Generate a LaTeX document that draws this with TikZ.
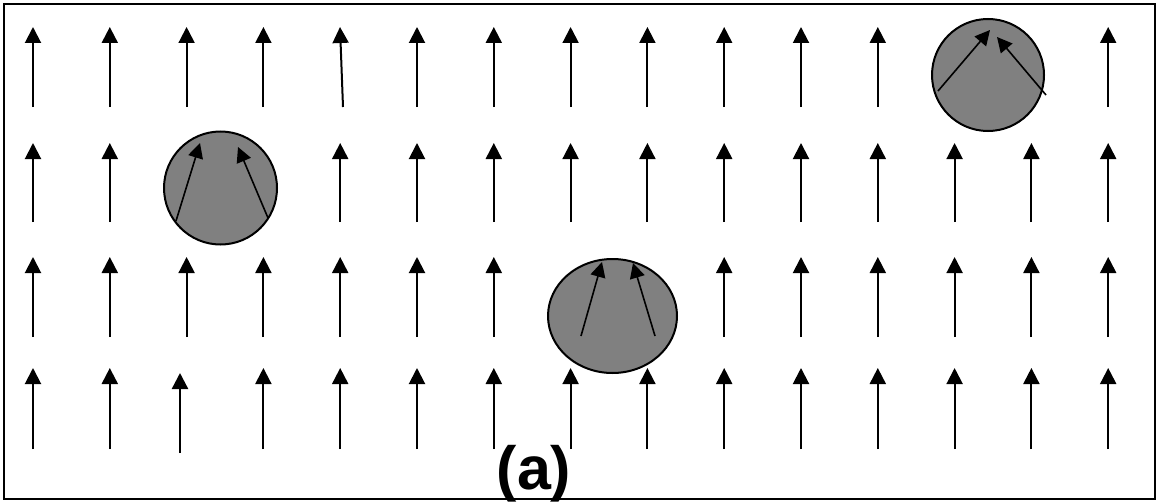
\documentclass[tikz,border=0pt]{standalone}
\usepackage{fontspec}
\setmainfont{Liberation Sans}
\usetikzlibrary{arrows.meta}
\tikzset{
  spin/.style={line width=2pt,-{Triangle[width=16pt,length=16pt]}},
  tilt/.style={line width=1.6pt,-{Triangle[width=15pt,length=15pt]}},
  grain/.style={draw=black,line width=2pt,fill=black!50}
}

\begin{document}
\begin{tikzpicture}[x=1pt,y=-1pt]
    \useasboundingbox (0,0) rectangle (1158,503);
    \draw[line width=2.2pt] (4,4) rectangle (1155,499);
    % grains
    \draw[grain] (220.5,188) circle (56.5);
    \draw[grain] (988,75) circle (56);
    \draw[grain] (612.5,316) ellipse (64.5 and 57);
    % spins outside the grains
    \foreach \tip/\tail/\cols in {27/107/{0,1,2,3,5,6,7,8,9,10,11,14},
                                  143/222/{0,1,4,5,6,7,8,9,10,11,12,13,14},
                                  257/337/{0,1,2,3,4,5,6,9,10,11,12,13,14},
                                  368/449/{0,1,3,4,5,6,7,8,9,10,11,12,13,14}}
      \foreach \c in \cols
        \draw[spin] ({33+76.8*\c},\tail) -- ({33+76.8*\c},\tip);
    \draw[spin] (343,107) -- (340,27);
    \draw[spin,line width=2.4pt] (180,453) -- (180,373);
    % spins inside the grains
    \draw[tilt] (176,221) -- (200,143);
    \draw[tilt] (268,218) -- (238,147);
    \draw[tilt] (938,91) -- (990,30);
    \draw[tilt] (1046,95) -- (997,37);
    \draw[tilt] (581,336) -- (602,262);
    \draw[tilt] (655,336) -- (633,263);
    \node[font=\fontsize{61}{61}\selectfont\bfseries,inner sep=0pt] (label) at (534,474) {(a)};
  \end{tikzpicture}
\end{document}
